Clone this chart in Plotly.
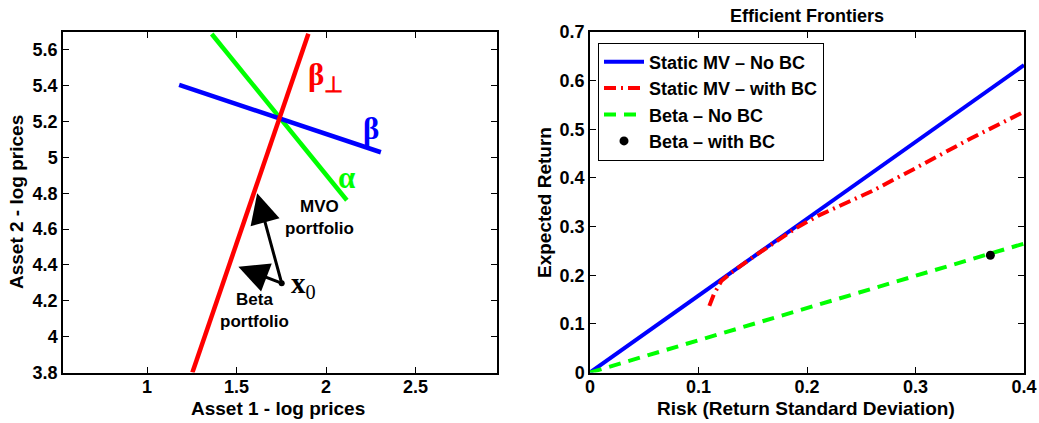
import plotly.graph_objects as go

# ---- Left panel data ----
green_x = [1.361, 2.116]
green_y = [5.689, 4.761]
blue_x = [1.179, 2.306]
blue_y = [5.405, 5.029]
red_x = [1.253, 1.901]
red_y = [3.80, 5.69]
x0 = [1.752, 4.298]
mvo_tip = [1.615, 4.80]
beta_tip = [1.51, 4.39]

# ---- Right panel data ----
risk_blue = [0.0, 0.4]
ret_blue = [0.0, 0.632]
risk_red = [0.110, 0.114, 0.121, 0.130, 0.150, 0.170, 0.190, 0.210, 0.260, 0.300, 0.350, 0.400]
ret_red = [0.137, 0.160, 0.188, 0.205, 0.237, 0.268, 0.297, 0.322, 0.373, 0.420, 0.480, 0.536]
risk_green = [0.0, 0.4]
ret_green = [0.0, 0.265]
beta_bc_risk = [0.369]
beta_bc_ret = [0.241]

W, H = 1039, 423
FONT = "Liberation Sans"
SERIF = "Liberation Serif"
FS = 19
TFS = 18

fig = go.Figure()

# left panel lines
fig.add_trace(go.Scatter(x=green_x, y=green_y, mode="lines", line=dict(color="#00ff00", width=4.5),
                         showlegend=False, xaxis="x", yaxis="y"))
fig.add_trace(go.Scatter(x=blue_x, y=blue_y, mode="lines", line=dict(color="#0000ff", width=4.5),
                         showlegend=False, xaxis="x", yaxis="y"))
fig.add_trace(go.Scatter(x=red_x, y=red_y, mode="lines", line=dict(color="#ff0000", width=4.5),
                         showlegend=False, xaxis="x", yaxis="y"))
fig.add_trace(go.Scatter(x=[x0[0]], y=[x0[1]], mode="markers", marker=dict(color="black", size=6),
                         showlegend=False, xaxis="x", yaxis="y"))

# right panel
fig.add_trace(go.Scatter(x=risk_blue, y=ret_blue, mode="lines", name="<b>Static MV \u2013 No BC</b>",
                         line=dict(color="#0000ff", width=4), xaxis="x2", yaxis="y2"))
fig.add_trace(go.Scatter(x=risk_red, y=ret_red, mode="lines", name="<b>Static MV \u2013 with BC</b>",
                         line=dict(color="#ff0000", width=4, dash="12px,5px,2px,5px"), xaxis="x2", yaxis="y2"))
fig.add_trace(go.Scatter(x=risk_green, y=ret_green, mode="lines", name="<b>Beta \u2013 No BC</b>",
                         line=dict(color="#00ff00", width=4, dash="12px,8px"), xaxis="x2", yaxis="y2"))
fig.add_trace(go.Scatter(x=beta_bc_risk, y=beta_bc_ret, mode="markers", name="<b>Beta \u2013 with BC</b>",
                         marker=dict(color="black", size=9), xaxis="x2", yaxis="y2"))

axis_common = dict(showgrid=False, zeroline=False, showline=True, linecolor="black", linewidth=1.5,
                   mirror="allticks", ticks="inside", ticklen=6, tickcolor="black", automargin=False,
                   tickfont=dict(family=FONT, size=TFS, color="black"))

ldom_x = [63 / W, 497 / W]
rdom_x = [590 / W, 1024 / W]
dom_y = [1 - 372.5 / H, 1 - 32 / H]


def bold(lst):
    return ["<b>%s</b>" % s for s in lst]


fig.update_layout(
    width=W, height=H,
    margin=dict(l=0, r=0, t=0, b=0),
    paper_bgcolor="white", plot_bgcolor="white",
    font=dict(family=FONT, color="black"),
    xaxis=dict(domain=ldom_x, range=[0.53, 2.955], tickvals=[1, 1.5, 2, 2.5],
               ticktext=bold(["1", "1.5", "2", "2.5"]), anchor="y", ticklabelstandoff=-3, **axis_common),
    yaxis=dict(domain=dom_y, range=[3.8, 5.7], tickvals=[3.8, 4, 4.2, 4.4, 4.6, 4.8, 5, 5.2, 5.4, 5.6],
               ticktext=bold(["3.8", "4", "4.2", "4.4", "4.6", "4.8", "5", "5.2", "5.4", "5.6"]),
               anchor="x", **axis_common),
    xaxis2=dict(domain=rdom_x, range=[0, 0.4], tickvals=[0, 0.1, 0.2, 0.3, 0.4],
                ticktext=bold(["0", "0.1", "0.2", "0.3", "0.4"]), anchor="y2", ticklabelstandoff=-3,
                **axis_common),
    yaxis2=dict(domain=dom_y, range=[0, 0.7], tickvals=[0, 0.1, 0.2, 0.3, 0.4, 0.5, 0.6, 0.7],
                ticktext=bold(["0", "0.1", "0.2", "0.3", "0.4", "0.5", "0.6", "0.7"]),
                anchor="x2", **axis_common),
    legend=dict(x=598 / W, y=1 - 42.5 / H, xanchor="left", yanchor="top",
                bgcolor="white", bordercolor="black", borderwidth=1,
                font=dict(family=FONT, size=18, color="black"), itemwidth=40,
                tracegroupgap=0),
)


def paper_text(text, px, py, size, angle=0):
    return dict(text=text, x=px / W, y=1 - py / H, xref="paper", yref="paper",
                xanchor="center", yanchor="middle", textangle=angle,
                showarrow=False, font=dict(family=FONT, size=size))


ann = []
ann.append(paper_text("<b>Efficient Frontiers</b>", 807, 16, 18))
ann.append(paper_text("<b>Asset 1 - log prices</b>", 278, 408, FS))
ann.append(paper_text("<b>Risk (Return Standard Deviation)</b>", 806, 408, FS))
ann.append(paper_text("<b>Asset 2 - log prices</b>", 16, 202, FS, -90))
ann.append(paper_text("<b>Expected Return</b>", 544, 203, FS, -90))
# greek labels
ann.append(dict(text="<b>\u03b2<sub>\u22a5</sub></b>", x=1.885, y=5.45, xref="x", yref="y", xanchor="left",
                showarrow=False, font=dict(family=SERIF, size=31, color="#ff0000")))
ann.append(dict(text="<b>\u03b2</b>", x=2.195, y=5.16, xref="x", yref="y", xanchor="left",
                showarrow=False, font=dict(family=SERIF, size=31, color="#0000ff")))
ann.append(dict(text="<b>\u03b1</b>", x=2.055, y=4.89, xref="x", yref="y", xanchor="left",
                showarrow=False, font=dict(family=SERIF, size=31, color="#00ff00")))
# arrows
ann.append(dict(x=mvo_tip[0], y=mvo_tip[1], ax=x0[0], ay=x0[1], xref="x", yref="y", axref="x", ayref="y",
                showarrow=True, arrowhead=2, arrowsize=2.0, arrowwidth=3, arrowcolor="black", text=""))
ann.append(dict(x=beta_tip[0], y=beta_tip[1], ax=x0[0], ay=x0[1], xref="x", yref="y", axref="x", ayref="y",
                showarrow=True, arrowhead=2, arrowsize=2.0, arrowwidth=3, arrowcolor="black", text=""))
ann.append(dict(text="<b>MVO<br>portfolio</b>", x=1.965, y=4.665, xref="x", yref="y", showarrow=False,
                font=dict(family=FONT, size=17)))
ann.append(dict(text="<b>Beta<br>portfolio</b>", x=1.60, y=4.145, xref="x", yref="y", showarrow=False,
                font=dict(family=FONT, size=17)))
ann.append(dict(text="<b>x</b><sub>0</sub>", x=1.79, y=4.29, xref="x", yref="y", xanchor="left",
                showarrow=False, font=dict(family=SERIF, size=29)))
fig.update_layout(annotations=ann)

fig.write_html("out.html")
